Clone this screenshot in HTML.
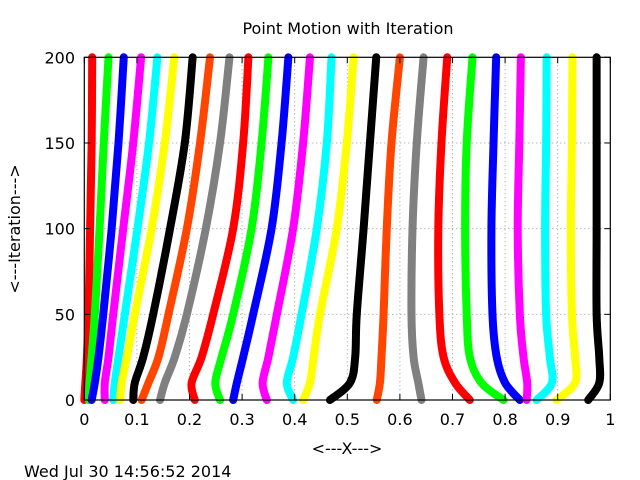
<!DOCTYPE html>
<html><head><meta charset="utf-8">
<style>
html,body{margin:0;padding:0;background:#fff;}
svg{display:block;font-family:"DejaVu Sans","Liberation Sans",sans-serif;}
</style></head>
<body>
<svg id="chart" width="640" height="480" viewBox="0 0 640 480">
  <rect x="0" y="0" width="640" height="480" fill="#fff"/>
  <g id="grid"></g>
  <g id="series"></g>
  <g id="axes"></g>
  <text x="348" y="34" text-anchor="middle" font-size="16">Point Motion with Iteration</text>
  <text x="347" y="454" text-anchor="middle" font-size="16">&lt;---X---&gt;</text>
  <text transform="translate(20,229) rotate(-90)" text-anchor="middle" font-size="16">&lt;---Iteration---&gt;</text>
  <text x="24" y="477" font-size="16">Wed Jul 30 14:56:52 2014</text>
</svg>
<script>
const iterations = [200,150,100,50,25,10,0];
const xTicks = [0,0.1,0.2,0.3,0.4,0.5,0.6,0.7,0.8,0.9,1];
const xTickLabels = ["0","0.1","0.2","0.3","0.4","0.5","0.6","0.7","0.8","0.9","1"];
const yTicks = [0,50,100,150,200];
const yTickLabels = ["0","50","100","150","200"];
const seriesColors = ["#ff0000","#00ff00","#0000ff","#ff00ff","#00ffff","#ffff00","#000000","#ff4500","#808080"];
const p01 = [0.015,0.014,0.011,0.008,0.005,0.002,0.0];
const p02 = [0.046,0.037,0.029,0.020,0.014,0.010,0.008];
const p03 = [0.075,0.065,0.052,0.036,0.027,0.020,0.014];
const p04 = [0.108,0.093,0.074,0.055,0.046,0.039,0.039];
const p05 = [0.139,0.123,0.101,0.077,0.065,0.058,0.055];
const p06 = [0.171,0.153,0.128,0.096,0.081,0.071,0.068];
const p07 = [0.206,0.191,0.163,0.131,0.112,0.096,0.093];
const p08 = [0.239,0.220,0.195,0.160,0.141,0.122,0.109];
const p09 = [0.276,0.258,0.231,0.195,0.172,0.153,0.144];
const p10 = [0.312,0.302,0.283,0.245,0.223,0.204,0.210];
const p11 = [0.350,0.337,0.318,0.283,0.261,0.249,0.258];
const p12 = [0.388,0.375,0.356,0.321,0.302,0.290,0.283];
const p13 = [0.429,0.416,0.397,0.366,0.350,0.339,0.347];
const p14 = [0.470,0.461,0.442,0.413,0.397,0.385,0.397];
const p15 = [0.512,0.499,0.480,0.448,0.436,0.429,0.416];
const p16 = [0.555,0.543,0.531,0.518,0.515,0.505,0.467];
const p17 = [0.600,0.584,0.575,0.569,0.565,0.562,0.556];
const p18 = [0.645,0.632,0.624,0.622,0.626,0.635,0.641];
const p19 = [0.690,0.679,0.673,0.675,0.683,0.705,0.733];
const p20 = [0.738,0.727,0.724,0.727,0.733,0.755,0.797];
const p21 = [0.783,0.778,0.774,0.776,0.784,0.800,0.828];
const p22 = [0.830,0.827,0.824,0.828,0.835,0.842,0.841];
const p23 = [0.879,0.878,0.876,0.878,0.885,0.889,0.860];
const p24 = [0.928,0.927,0.925,0.927,0.933,0.933,0.898];
const p25 = [0.974,0.974,0.974,0.974,0.979,0.979,0.958];
const allSeries = [p01,p02,p03,p04,p05,p06,p07,p08,p09,p10,p11,p12,p13,p14,p15,p16,p17,p18,p19,p20,p21,p22,p23,p24,p25];

const NS = "http://www.w3.org/2000/svg";
const L = 84.3, R = 610.3, T = 57.3, B = 400;
const sx = v => L + v * (R - L);
const sy = v => B - v / 200 * (B - T);

const grid = document.getElementById('grid');
const axes = document.getElementById('axes');
const series = document.getElementById('series');

function mk(tag, attrs, parent) {
  const e = document.createElementNS(NS, tag);
  for (const k in attrs) e.setAttribute(k, attrs[k]);
  parent.appendChild(e);
  return e;
}

xTicks.forEach((v, i) => {
  const x = sx(v);
  if (i > 0 && i < xTicks.length - 1) {
    const g = mk('line', {x1:x, y1:T, x2:x, y2:B, stroke:'#999', 'stroke-width':1, 'stroke-dasharray':'1,3'}, grid);
    
    
  }
  const t1 = mk('line', {x1:x, y1:B, x2:x, y2:B-6, stroke:'#000', 'stroke-width':1}, axes);
  
  
  const t2 = mk('line', {x1:x, y1:T, x2:x, y2:T+6, stroke:'#000', 'stroke-width':1}, axes);
  
  
  const lb = mk('text', {x:x, y:425, 'text-anchor':'middle', 'font-size':16}, axes);
  lb.textContent = xTickLabels[i];
  
  
});
yTicks.forEach((v, i) => {
  const y = sy(v);
  if (i > 0 && i < yTicks.length - 1) {
    const g = mk('line', {x1:L, y1:y, x2:R, y2:y, stroke:'#999', 'stroke-width':1, 'stroke-dasharray':'1,3'}, grid);
    
    
  }
  const t1 = mk('line', {x1:L, y1:y, x2:L+6, y2:y, stroke:'#000', 'stroke-width':1}, axes);
  
  
  const t2 = mk('line', {x1:R, y1:y, x2:R-6, y2:y, stroke:'#000', 'stroke-width':1}, axes);
  
  
  const lb = mk('text', {x:75, y:y+6, 'text-anchor':'end', 'font-size':16}, axes);
  lb.textContent = yTickLabels[i];
  
  
});
const frame = mk('rect', {x:L, y:T, width:R-L, height:B-T, fill:'none', stroke:'#000', 'stroke-width':1.2}, axes);



function smoothPath(pts) {
  let d = 'M' + pts[0][0].toFixed(2) + ',' + pts[0][1].toFixed(2);
  for (let i = 0; i < pts.length - 1; i++) {
    const p0 = pts[Math.max(0, i-1)], p1 = pts[i], p2 = pts[i+1], p3 = pts[Math.min(pts.length-1, i+2)];
    const c1x = p1[0] + (p2[0]-p0[0])/6, c1y = p1[1] + (p2[1]-p0[1])/6;
    const c2x = p2[0] - (p3[0]-p1[0])/6, c2y = p2[1] - (p3[1]-p1[1])/6;
    d += ' C' + c1x.toFixed(2) + ',' + c1y.toFixed(2) + ' ' + c2x.toFixed(2) + ',' + c2y.toFixed(2) + ' ' + p2[0].toFixed(2) + ',' + p2[1].toFixed(2);
  }
  return d;
}

allSeries.forEach((vals, si) => {
  const color = seriesColors[si % seriesColors.length];
  const pts = vals.map((v, k) => [sx(v), sy(iterations[k])]);
  const p = mk('path', {d:smoothPath(pts), fill:'none', stroke:color, 'stroke-width':8, 'stroke-linecap':'round', 'stroke-linejoin':'round'}, series);
  
  
});
</script>
</body></html>
